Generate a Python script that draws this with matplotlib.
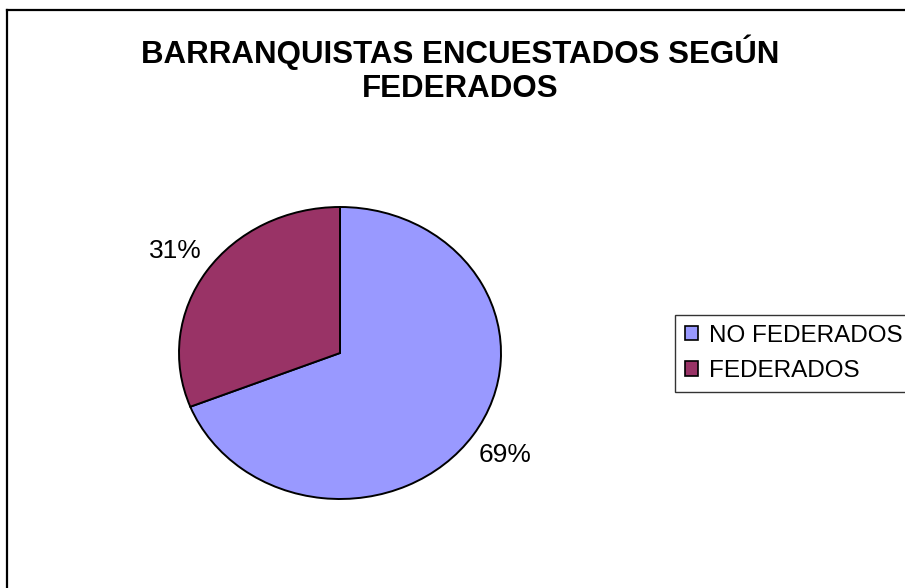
import matplotlib.pyplot as plt
from matplotlib.patches import Rectangle
from matplotlib.lines import Line2D

# Datos del grafico
categorias = ['NO FEDERADOS', 'FEDERADOS']
valores = [69, 31]
colores = ['#9999FF', '#993366']
titulo = 'BARRANQUISTAS ENCUESTADOS SEGÚN\nFEDERADOS'

W, H = 905, 588
plt.rcParams['font.family'] = ['Liberation Sans', 'DejaVu Sans']

fig = plt.figure(figsize=(W / 100, H / 100), dpi=100)

# Marco (solo borde izquierdo y superior visibles)
fig.add_artist(Line2D([7 / W, 7 / W], [0, 1 - 10 / H], color='black', lw=1.6,
                      transform=fig.transFigure))
fig.add_artist(Line2D([7 / W, 1], [1 - 10 / H, 1 - 10 / H], color='black', lw=1.6,
                      transform=fig.transFigure))

# Titulo
fig.text(460 / W, 1 - 35 / H, titulo, ha='center', va='top', fontsize=22.5,
         fontweight='bold', linespacing=1.15)

# Tarta (ligeramente eliptica, como en el original)
cx, cy, rx, ry = 340, 353, 161, 146
ax = fig.add_axes([(cx - rx) / W, 1 - (cy + ry) / H, 2 * rx / W, 2 * ry / H])
wedges, textos, pcts = ax.pie(valores, colors=colores, startangle=90,
                              counterclock=False, autopct='%1.0f%%',
                              pctdistance=1.24,
                              wedgeprops=dict(edgecolor='black', linewidth=1.4),
                              textprops=dict(fontsize=19))
ax.set_aspect('auto')
ax.set_xlim(-1, 1)
ax.set_ylim(-1, 1)

# Leyenda
handles = [Rectangle((0, 0), 1, 1, facecolor=c, edgecolor='black', lw=1.2)
           for c in colores]
leg = fig.legend(handles, categorias, loc='upper left',
                 bbox_to_anchor=(675 / W, 1 - 315 / H), fontsize=17.5,
                 frameon=True, fancybox=False, handlelength=0.55,
                 handleheight=0.55, handletextpad=0.45, borderpad=0.4,
                 labelspacing=0.55, borderaxespad=0)
leg.get_frame().set_edgecolor('black')
leg.get_frame().set_linewidth(1.0)

fig.savefig('out.png', dpi=100)
